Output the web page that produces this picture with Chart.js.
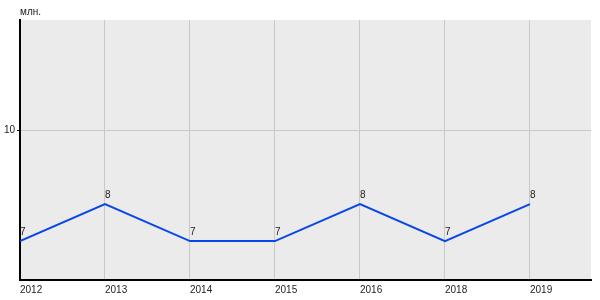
<!DOCTYPE html>
<html>
<head>
<meta charset="utf-8">
<script src="https://cdn.jsdelivr.net/npm/chart.js@4"></script>
<style>
  html, body { margin: 0; padding: 0; background: #fff; }
  #wrap { width: 600px; height: 300px; }
</style>
</head>
<body>
<div id="wrap"><canvas id="chart"></canvas></div>
<script>
const years = ['2012', '2013', '2014', '2015', '2016', '2018', '2019'];
const values = [7, 8, 7, 7, 8, 7, 8];
const yTicks = [10];
const unitLabel = 'млн.';

const font = 'Arial, "Liberation Sans", sans-serif';

// plot background + unit text + point value labels
const extras = {
    id: 'extras',
    beforeDraw(chart) {
        const a = chart.chartArea;
        const ctx = chart.ctx;
        ctx.save();
        ctx.fillStyle = '#ebebeb';
        ctx.fillRect(a.left, a.top, a.right - a.left, a.bottom - a.top);
        ctx.restore();
    },
    afterDraw(chart) {
        const ctx = chart.ctx;
        ctx.save();
        ctx.fillStyle = '#222';
        ctx.font = '10px ' + font;
        ctx.textAlign = 'left';
        ctx.textBaseline = 'middle';
        ctx.fillText(unitLabel, chart.chartArea.left, 12);
        ctx.textBaseline = 'bottom';
        chart.getDatasetMeta(0).data.forEach((pt, i) => {
            ctx.fillText(String(values[i]), pt.x, pt.y - 4);
        });
        ctx.restore();
    }
};

new Chart(document.getElementById('chart'), {
    type: 'line',
    data: {
        datasets: [{
            data: values.map((v, i) => ({ x: i, y: v })),
            borderColor: '#0646ec',
            borderWidth: 2,
            pointRadius: 0,
            tension: 0,
            fill: false
        }]
    },
    options: {
        responsive: true,
        maintainAspectRatio: false,
        animation: false,
        layout: { padding: { top: 20, right: 9, left: 0, bottom: 0 } },
        plugins: {
            legend: { display: false },
            tooltip: { enabled: false }
        },
        scales: {
            x: {
                type: 'linear',
                min: 0,
                max: 6.718,
                afterBuildTicks: s => { s.ticks = years.map((y, i) => ({ value: i })); },
                afterFit: s => { s.height = 20; },
                grid: { color: '#c8c8c8', drawTicks: false },
                border: { color: '#000', width: 2 },
                ticks: {
                    align: 'start',
                    padding: 4,
                    maxRotation: 0,
                    autoSkip: false,
                    color: '#222',
                    font: { family: font, size: 10 },
                    callback: v => years[v]
                }
            },
            y: {
                min: 5.95,
                max: 12.97,
                afterBuildTicks: s => { s.ticks = yTicks.map(v => ({ value: v })); },
                afterFit: s => { s.width = 20; },
                grid: { color: '#c8c8c8', tickLength: 3, tickColor: '#000' },
                border: { color: '#000', width: 2 },
                ticks: {
                    padding: 2,
                    color: '#222',
                    font: { family: font, size: 10 }
                }
            }
        }
    },
    plugins: [extras]
});
</script>
</body>
</html>
